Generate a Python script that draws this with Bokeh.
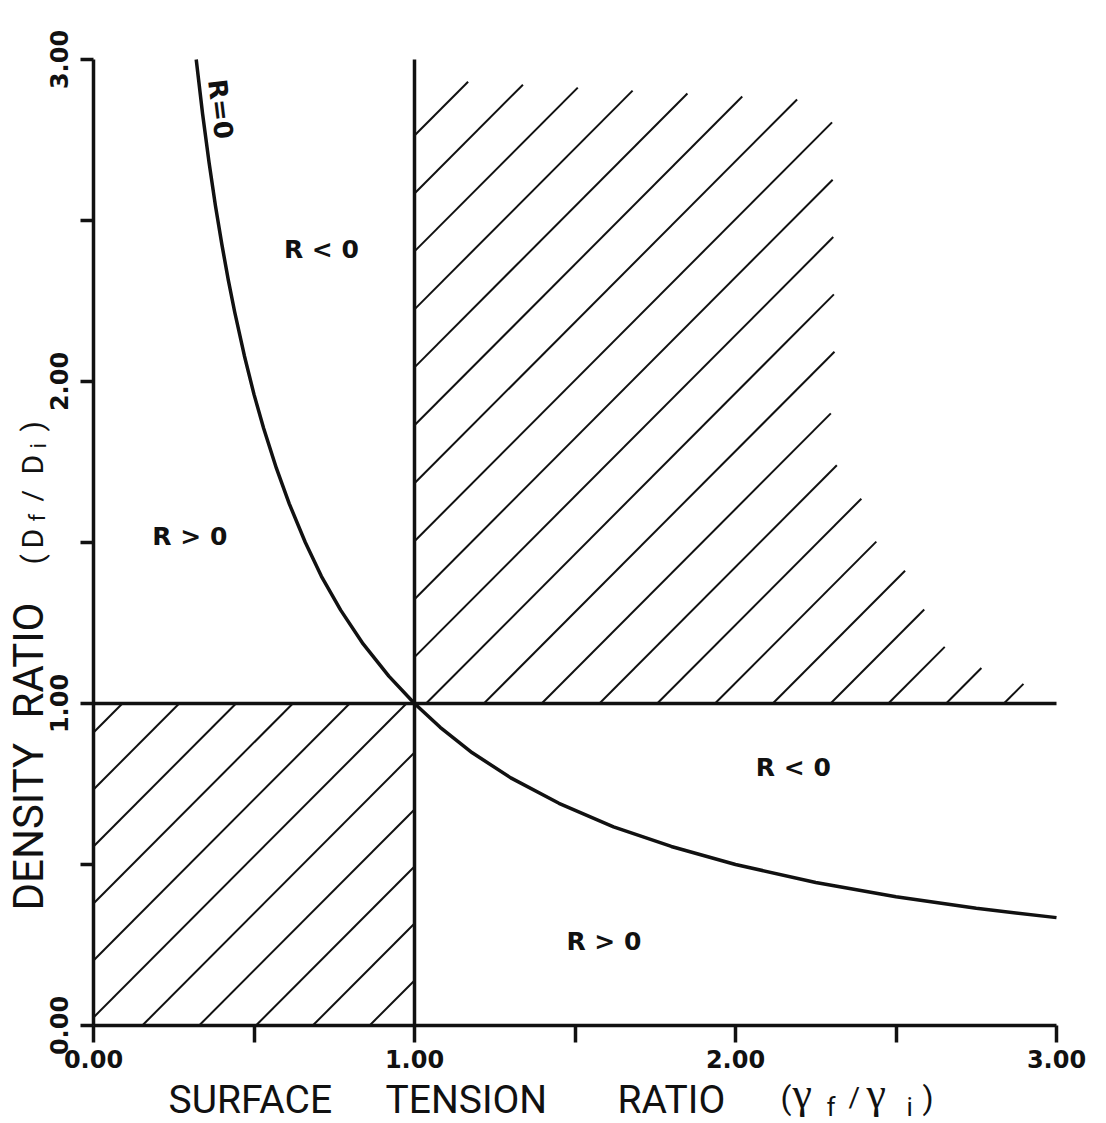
import math

from bokeh.plotting import figure
from bokeh.models import (Range1d, FixedTicker, NumeralTickFormatter, Label,
                          ColumnDataSource, LinearAxis)
from bokeh.core.properties import value
from bokeh.embed import file_html
from bokeh.resources import INLINE

# R = 0 boundary: density ratio against surface tension ratio
curve_x = [0.32, 0.34, 0.36, 0.38, 0.40, 0.42, 0.44, 0.47, 0.50, 0.53, 0.57, 0.61, 0.66,
           0.71, 0.77, 0.84, 0.92, 1.00, 1.08, 1.18, 1.30, 1.45, 1.62, 1.80, 2.00, 2.25,
           2.50, 2.75, 3.00]
curve_y = [3.000, 2.830, 2.680, 2.545, 2.425, 2.315, 2.215, 2.080, 1.960, 1.855, 1.730,
           1.620, 1.500, 1.395, 1.290, 1.185, 1.085, 1.000, 0.926, 0.847, 0.769, 0.690,
           0.617, 0.556, 0.500, 0.444, 0.400, 0.364, 0.335]

# unit ratios (f = i) split the plane into four regions
unit_ratio = 1.0

# outlines of the two hatched regions
lower_left_x = [0.0, 1.0, 1.0, 0.0]
lower_left_y = [0.0, 0.0, 1.0, 1.0]
upper_right_x = [1.00, 1.00, 2.30, 2.31, 2.25, 2.38, 2.40, 2.46, 2.56, 2.60, 2.67, 2.79, 2.90, 2.94]
upper_right_y = [1.00, 2.94, 2.87, 1.94, 1.76, 1.72, 1.58, 1.46, 1.39, 1.25, 1.15, 1.10, 1.06, 1.00]

# sign of R in each region
region_text = ["R < 0", "R > 0", "R < 0", "R > 0"]
region_x = [0.71, 0.30, 2.18, 1.59]
region_y = [2.41, 1.52, 0.80, 0.26]

x_ticks = [0, 1, 2, 3]
x_minor_ticks = [0.5, 1.5, 2.5]
y_ticks = [0, 1, 2, 3]
y_minor_ticks = [0.5, 1.5, 2.5]

W, H = 1106, 1123
# pixel position of the origin and pixels per unit on each axis
X0_PX, Y0_PX = 93, 1025
SX, SY = 321.0, 322.0


def to_x(px):
    return (px - X0_PX) / SX


def to_y(py):
    return (Y0_PX - py) / SY


def hatch_segments(xs, ys, phase, step):
    """Clip the family of lines x - y = phase + k*step to a polygon."""
    n = len(xs)
    diffs = [x - y for x, y in zip(xs, ys)]
    k0 = math.ceil((min(diffs) - phase) / step)
    k1 = math.floor((max(diffs) - phase) / step)
    x0, y0, x1, y1 = [], [], [], []
    for k in range(k0, k1 + 1):
        d = phase + k * step
        ts = []
        for i in range(n):
            ax, ay = xs[i], ys[i]
            bx, by = xs[(i + 1) % n], ys[(i + 1) % n]
            fa, fb = ax - ay - d, bx - by - d
            if (fa < 0) != (fb < 0):
                s = fa / (fa - fb)
                ts.append(ay + s * (by - ay))
        ts.sort()
        for a, b in zip(ts[0::2], ts[1::2]):
            x0.append(a + d)
            y0.append(a)
            x1.append(b + d)
            y1.append(b)
    return dict(x0=x0, y0=y0, x1=x1, y1=y1)


# the frame fills the whole canvas so that axis titles can sit in data space
p = figure(width=W, height=H,
           x_range=Range1d(to_x(0), to_x(W)), y_range=Range1d(to_y(H), to_y(0)),
           x_axis_location=None, y_axis_location=None,
           output_backend="svg", toolbar_location=None,
           min_border_left=0, min_border_right=0, min_border_top=0, min_border_bottom=0)
p.xgrid.visible = False
p.ygrid.visible = False
p.outline_line_color = None
p.background_fill_color = "white"
p.border_fill_color = "white"

INK = "#111111"
x_lo, x_hi = x_ticks[0], x_ticks[-1]
y_lo, y_hi = y_ticks[0], y_ticks[-1]

# hatching
for xs, ys, phase, step in [(lower_left_x, lower_left_y, -0.025, 0.177),
                            (upper_right_x, upper_right_y, 0.036, 0.18)]:
    src = ColumnDataSource(hatch_segments(xs, ys, phase, step))
    p.segment("x0", "y0", "x1", "y1", source=src, line_color=INK, line_width=2.0)

# unit-ratio lines
p.segment(x0=[unit_ratio, x_lo], y0=[y_lo, unit_ratio], x1=[unit_ratio, x_hi],
          y1=[y_hi, unit_ratio], line_color=INK, line_width=3.5)

# R = 0 curve
p.line(curve_x, curve_y, line_color=INK, line_width=3.5, line_join="round")

# region labels
p.text(x=region_x, y=region_y, text=region_text, text_font=value("DejaVu Sans"),
       text_font_style="bold", text_font_size="25px", text_align="center",
       text_baseline="middle", text_color=INK)
p.add_layout(Label(x=0.396, y=2.846, text="R=0", angle=-1.45, text_font="DejaVu Sans",
                   text_font_style="bold", text_font_size="26px", text_align="center",
                   text_baseline="middle", text_color=INK))

# axes drawn along x = 0 and y = 0
xaxis = LinearAxis(fixed_location=0, bounds=(x_lo, x_hi))
yaxis = LinearAxis(fixed_location=0, bounds=(y_lo, y_hi))
p.add_layout(xaxis, "below")
p.add_layout(yaxis, "left")
for ax, ticks, minor, out in [(xaxis, x_ticks, x_minor_ticks, 17),
                              (yaxis, y_ticks, y_minor_ticks, 13)]:
    ax.ticker = FixedTicker(ticks=ticks, minor_ticks=minor)
    ax.formatter = NumeralTickFormatter(format="0.00")
    ax.axis_line_width = 3.5
    ax.axis_line_color = INK
    ax.major_tick_line_width = 3.5
    ax.minor_tick_line_width = 3.5
    ax.major_tick_line_color = INK
    ax.minor_tick_line_color = INK
    ax.major_tick_in = 0
    ax.minor_tick_in = 0
    ax.major_tick_out = out
    ax.minor_tick_out = out
    ax.major_label_text_font = "DejaVu Sans"
    ax.major_label_text_font_style = "bold"
    ax.major_label_text_font_size = "24px"
    ax.major_label_text_color = INK
xaxis.major_label_standoff = 7
yaxis.major_label_standoff = 13
yaxis.major_label_orientation = "parallel"


def add_text(text, px, py, size, angle=0.0, font="Roboto"):
    """Place a piece of an axis title: px/py give the start of the text and
    the middle of its line box, in canvas pixels."""
    p.add_layout(Label(x=to_x(px), y=to_y(py), text=text, angle=angle, text_font=font,
                       text_font_size=f"{size}px", text_align="left",
                       text_baseline="middle", text_color=INK))


# x-axis title: SURFACE TENSION RATIO (γf/γi)
add_text("SURFACE", 168, 1099, 39)
add_text("TENSION", 385, 1099, 39)
add_text("RATIO", 617, 1099, 39)
add_text("(", 780, 1097, 32)
add_text("γ", 792, 1093, 44, font="Liberation Serif")
add_text("f", 826, 1106, 26)
add_text("/", 848, 1097, 28)
add_text("γ", 866, 1093, 44, font="Liberation Serif")
add_text("i", 906, 1106, 26)
add_text(")", 922, 1097, 32)

# y-axis title: DENSITY RATIO (Df/Di)
up = math.pi / 2
add_text("DENSITY", 28, 910, 42, angle=up)
add_text("RATIO", 28, 718, 42, angle=up)
add_text("(", 32, 564, 30, angle=up)
add_text("D", 32, 548, 30, angle=up)
add_text("f", 37, 521, 22, angle=up)
add_text("/", 32, 501, 28, angle=up)
add_text("D", 32, 474, 30, angle=up)
add_text("i", 38, 448, 22, angle=up)
add_text(")", 32, 431, 30, angle=up)

open("out.html", "w").write(file_html(p, INLINE))
